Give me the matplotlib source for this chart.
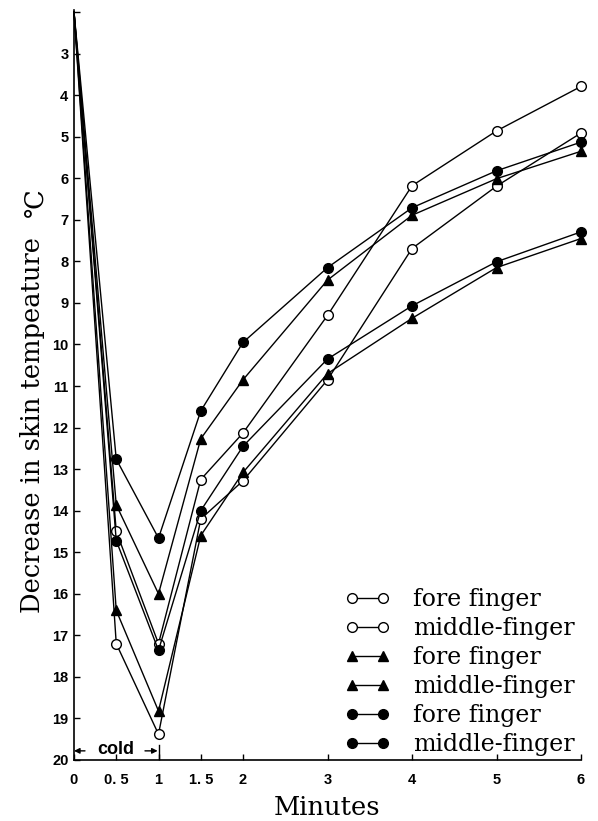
import matplotlib
matplotlib.use("Agg")
import matplotlib.pyplot as plt

# minutes after start (cold exposure from 0 to 1 min)
minutes = [0, 0.5, 1, 1.5, 2, 3, 4, 5, 6]

# decrease in skin temperature, degC
open_fore = [2.0, 14.5, 17.2, 13.25, 12.13, 9.3, 6.18, 4.86, 3.79]
open_middle = [2.0, 17.2, 19.38, 14.2, 13.28, 10.85, 7.69, 6.19, 4.91]
tri_fore = [2.0, 13.86, 16.0, 12.27, 10.85, 8.45, 6.89, 6.01, 5.35]
tri_middle = [2.0, 16.4, 18.82, 14.6, 13.08, 10.7, 9.37, 8.15, 7.45]
fill_fore = [2.0, 12.76, 14.66, 11.6, 9.95, 8.15, 6.71, 5.82, 5.13]
fill_middle = [2.0, 14.72, 17.36, 14.0, 12.45, 10.35, 9.07, 8.01, 7.29]

x_ticks = [0, 0.5, 1, 1.5, 2, 3, 4, 5, 6]
x_labels = ["0", "0. 5", "1", "1. 5", "2", "3", "4", "5", "6"]
y_ticks = list(range(2, 21))
y_labels = [""] + [str(v) for v in range(3, 21)]

series = [
    (open_fore, "fore finger", "o", "white"),
    (open_middle, "middle-finger", "o", "white"),
    (tri_fore, "fore finger", "^", "black"),
    (tri_middle, "middle-finger", "^", "black"),
    (fill_fore, "fore finger", "o", "black"),
    (fill_middle, "middle-finger", "o", "black"),
]

SERIF = ["DejaVu Serif"]
TICKFONT = dict(family=["Liberation Sans Narrow", "Liberation Sans", "DejaVu Sans"], weight="bold", size=10.5)

fig = plt.figure(figsize=(5.98, 8.21), dpi=100)
ax = fig.add_axes([74 / 598, 61 / 821, (581 - 74) / 598, (760 - 10) / 821])

for vals, label, mk, fc in series:
    # no marker at the common starting point
    ax.plot(minutes, vals, color="black", lw=1.0, marker=mk, markevery=list(range(1, len(minutes))),
            markersize=7 if mk == "o" else 7.5,
            markerfacecolor=fc, markeredgecolor="black", markeredgewidth=1.0,
            label=label, clip_on=False, zorder=3)

ax.set_xlim(0, 6)
ax.set_ylim(20, 1.95)
ax.set_xticks(x_ticks)
ax.set_xticklabels(x_labels, fontdict=TICKFONT)
ax.set_yticks(y_ticks)
ax.set_yticklabels(y_labels, fontdict=TICKFONT)
ax.tick_params(direction="in", length=4, width=1.0)
ax.tick_params(axis="x", pad=9)
ax.tick_params(axis="y", pad=4)
for s in ("top", "right"):
    ax.spines[s].set_visible(False)
for s in ("left", "bottom"):
    ax.spines[s].set_linewidth(1.2)

ax.set_xlabel("Minutes", family=SERIF, fontsize=18.5, labelpad=6)
fig.text(33 / 598, 1 - 425 / 821, "Decrease in skin tempeature", rotation=90,
         family=SERIF, fontsize=18.5, ha="center", va="center")
fig.text(35 / 598, 1 - 203 / 821, "\u2103", rotation=90,
         family=SERIF, fontsize=18.5, ha="center", va="center")

# cold period marker
arrow = dict(arrowstyle="-|>", lw=1.0, color="black", mutation_scale=8, shrinkA=0, shrinkB=0)
ax.annotate("", xy=(0, 19.78), xytext=(0.13, 19.78), arrowprops=arrow)
ax.annotate("", xy=(0.99, 19.78), xytext=(0.84, 19.78), arrowprops=arrow)
ax.plot([1, 1], [19.65, 20], color="black", lw=1.0)
ax.text(0.49, 19.74, "cold", ha="center", va="center",
        family=["Liberation Sans", "DejaVu Sans"], weight="bold", fontsize=13)

leg = ax.legend(loc="lower left", bbox_to_anchor=(345 / 598, 1 - 756 / 821),
                bbox_transform=fig.transFigure, frameon=False, numpoints=2,
                prop=dict(family=SERIF, size=17), handlelength=1.9,
                handletextpad=1.0, labelspacing=0.25, borderpad=0, borderaxespad=0)

fig.savefig("out.png", dpi=100)
